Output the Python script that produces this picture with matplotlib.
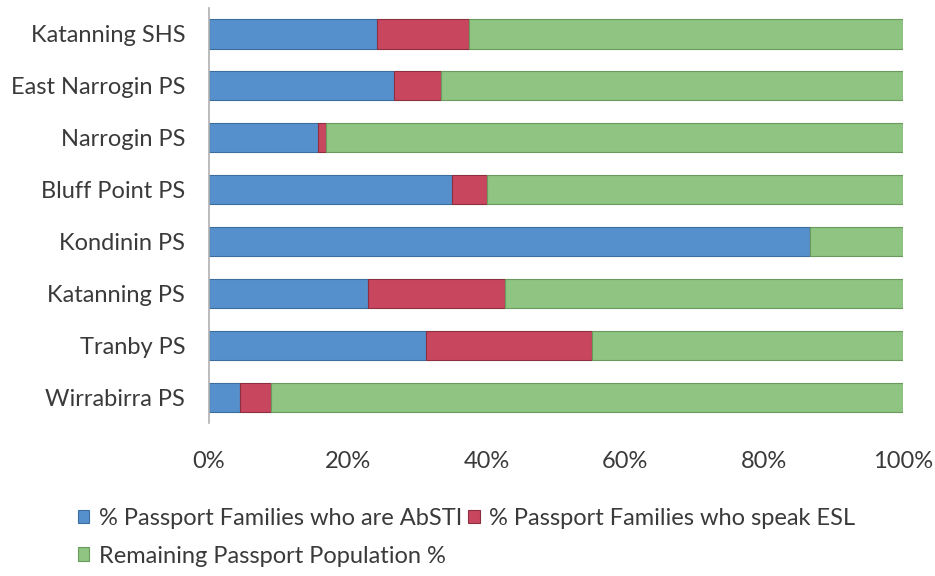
import matplotlib
matplotlib.use("Agg")
import matplotlib.pyplot as plt
import numpy as np

plt.rcParams['font.family'] = ['Lato', 'DejaVu Sans']

# schools, top to bottom as shown
schools = ['Katanning SHS', 'East Narrogin PS', 'Narrogin PS', 'Bluff Point PS',
           'Kondinin PS', 'Katanning PS', 'Tranby PS', 'Wirrabirra PS']
absti = [24.2, 26.7, 15.7, 35.0, 86.6, 22.9, 31.3, 4.4]
esl = [13.2, 6.8, 1.1, 5.0, 0.0, 19.8, 23.9, 4.5]
remaining = [100 - a - e for a, e in zip(absti, esl)]

labels = ['% Passport Families who are AbSTI', '% Passport Families who speak ESL',
          'Remaining Passport Population %']
colors = ['#5590cc', '#c8475f', '#8fc483']
edges = ['#3b6e9e', '#8e2f40', '#6a9a5c']
text_col = '#3a3a3a'
fs = 17

fig = plt.figure(figsize=(9.35, 5.76), dpi=100)
ax = fig.add_axes([0.2235, 0.2656, 0.7423, 0.7204])

y = np.arange(len(schools))
left = np.zeros(len(schools))
handles = []
for vals, lab, c, ec in zip([absti, esl, remaining], labels, colors, edges):
    b = ax.barh(y, vals, left=left, height=0.56, color=c, edgecolor=ec,
                linewidth=0.8, label=lab)
    handles.append(b)
    left = left + np.array(vals)

ax.set_ylim(len(schools) - 0.5, -0.5)
ax.set_xlim(0, 100)
ax.set_yticks(y)
ax.set_yticklabels(schools, fontsize=fs, color=text_col)
ax.set_xticks([0, 20, 40, 60, 80, 100])
ax.set_xticklabels(['0%', '20%', '40%', '60%', '80%', '100%'], fontsize=fs, color=text_col)
ax.tick_params(axis='y', length=0, pad=17)
ax.tick_params(axis='x', length=0, pad=20)
for s in ['top', 'right', 'bottom']:
    ax.spines[s].set_visible(False)
ax.spines['left'].set_color('#b0b0b0')
ax.spines['left'].set_linewidth(1.2)

# reorder so the legend reads row by row
fig.legend([handles[0], handles[2], handles[1]], [labels[0], labels[2], labels[1]],
           ncol=2, loc='upper left', bbox_to_anchor=(0.083, 0.118), frameon=False,
           fontsize=fs, labelcolor=text_col, handlelength=0.5, handleheight=0.5,
           handletextpad=0.4, columnspacing=0.25, labelspacing=0.7, borderaxespad=0,
           borderpad=0)

fig.savefig('out.png', dpi=100)
